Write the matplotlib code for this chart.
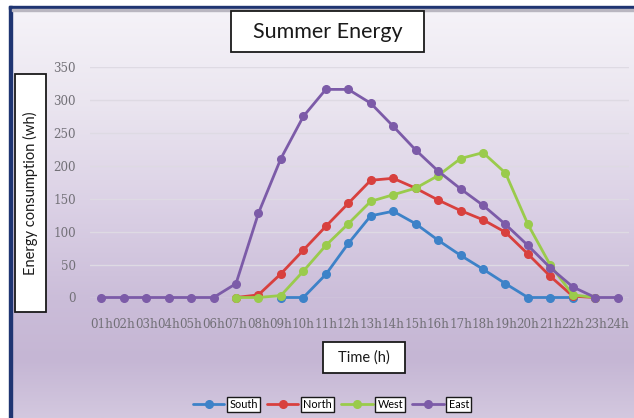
import numpy as np
import matplotlib
matplotlib.use("Agg")
import matplotlib.pyplot as plt
from matplotlib.patches import Rectangle
from matplotlib.colors import LinearSegmentedColormap

nan = np.nan

hours = ["01h", "02h", "03h", "04h", "05h", "06h", "07h", "08h", "09h", "10h",
         "11h", "12h", "13h", "14h", "15h", "16h", "17h", "18h", "19h", "20h",
         "21h", "22h", "23h", "24h"]

south = [nan, nan, nan, nan, nan, nan, nan, nan, 0, 0,
         35, 82, 124, 131, 112, 87, 64, 43, 21, 0,
         0, 0, nan, nan]
north = [nan, nan, nan, nan, nan, nan, 0, 4, 36, 72,
         108, 143, 178, 181, 166, 148, 132, 118, 99, 66,
         32, 2, 0, nan]
west = [nan, nan, nan, nan, nan, nan, 0, 0, 3, 40,
        79, 112, 146, 156, 166, 185, 211, 220, 189, 111,
        49, 4, 0, nan]
east = [0, 0, 0, 0, 0, 0, 21, 128, 211, 275,
        316, 316, 295, 260, 224, 192, 165, 140, 111, 79,
        45, 16, 0, 0]

series_names = ["South", "North", "West", "East"]
series_values = [south, north, west, east]
series_colors = ["#3d82c8", "#d8403e", "#9acb4c", "#7c5ba8"]

W, H = 634, 418
fig = plt.figure(figsize=(W / 100, H / 100), dpi=100)

# vertical lavender gradient behind everything
bg = fig.add_axes([0, 0, 1, 1], zorder=-10)
grad_cmap = LinearSegmentedColormap.from_list(
    "bg",
    [(0.0, "#f6f4f9"), (100 / H, "#ebe6f0"), (200 / H, "#dcd2e6"),
     (300 / H, "#cbbdd9"), (360 / H, "#c5b6d4"), (1.0, "#d3c8df")])
bg.imshow(np.linspace(0, 1, 256).reshape(-1, 1), aspect="auto", cmap=grad_cmap,
          extent=[0, 1, 0, 1], origin="upper")
bg.set_xlim(0, 1)
bg.set_ylim(0, 1)
bg.axis("off")
# white margin and navy frame on left / top
bg.add_patch(Rectangle((0, 0), 9 / W, 1, color="white", transform=bg.transAxes))
bg.add_patch(Rectangle((0, 1 - 6 / H), 1, 6 / H, color="white", transform=bg.transAxes))
bg.add_patch(Rectangle((9 / W, 0), 3 / W, 1 - 6 / H, color="#1f3572", transform=bg.transAxes))
bg.add_patch(Rectangle((9 / W, 1 - 9 / H), 1 - 9 / W, 3 / H, color="#1f3572", transform=bg.transAxes))
bg.add_patch(Rectangle((12 / W, 1 - 10.5 / H), 1 - 12 / W, 1.5 / H, color="#b9b6c0", transform=bg.transAxes))

# plot area
ax_left, ax_right = 90, 629
ax_top, ax_bottom = 67, 297.5
ax = fig.add_axes([ax_left / W, 1 - ax_bottom / H, (ax_right - ax_left) / W, (ax_bottom - ax_top) / H])
ax.patch.set_alpha(0)
x = np.arange(1, len(hours) + 1)
for name, vals, col in zip(series_names, series_values, series_colors):
    ax.plot(x, vals, color=col, lw=2.0, marker="o", ms=5.5, label=name,
            clip_on=False, solid_capstyle="round")

ax.set_xlim(0.5, 24.5)
ax.set_ylim(0, 350)
ax.set_yticks(np.arange(0, 351, 50))
ax.set_xticks(x)
ax.set_xticklabels(hours)
ax.grid(axis="y", color="#dedae3", lw=1.0, zorder=0)
ax.set_axisbelow(True)
for s in ax.spines.values():
    s.set_visible(False)
ax.tick_params(axis="both", length=0, labelcolor="#727077", labelsize=8.6)
ax.tick_params(axis="x", pad=15)
ax.tick_params(axis="y", pad=10)
for lab in ax.get_xticklabels() + ax.get_yticklabels():
    lab.set_fontfamily("DejaVu Serif")


def boxed_text(txt, x0, y0, x1, y1, size, rotation=0, lw=1.3):
    fig.add_artist(Rectangle((x0 / W, 1 - y1 / H), (x1 - x0) / W, (y1 - y0) / H,
                             transform=fig.transFigure, facecolor="white",
                             edgecolor="#1a1a1a", lw=lw, zorder=5))
    fig.text((x0 + x1) / 2 / W, 1 - (y0 + y1) / 2 / H, txt, ha="center", va="center",
             fontsize=size, family="Lato", color="#1a1a1a", rotation=rotation, zorder=6)


boxed_text("Summer Energy", 231, 11, 424, 52, 15.5)
boxed_text("Energy consumption (wh)", 15, 74, 46, 312, 10.5, rotation=90)
boxed_text("Time (h)", 323, 342, 405, 373, 10.5)

leg = fig.legend(*ax.get_legend_handles_labels(), loc="center",
                 bbox_to_anchor=(331 / W, 1 - 404.5 / H), ncol=4, frameon=False,
                 fontsize=7.8, handlelength=2.9, handletextpad=0.45,
                 columnspacing=0.85, borderaxespad=0)
for t in leg.get_texts():
    t.set_fontfamily("Lato")
    t.set_bbox(dict(facecolor="white", edgecolor="#1a1a1a", lw=1.0, pad=1.6))

fig.savefig("out.png", dpi=100)
